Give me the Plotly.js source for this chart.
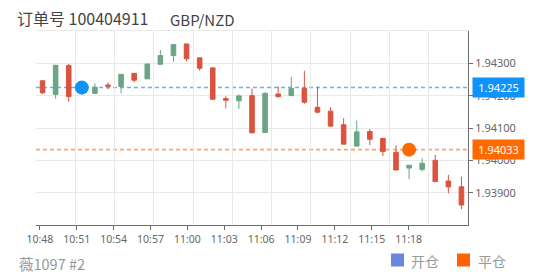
<!DOCTYPE html>
<html>
<head>
<meta charset="utf-8">
<script src="https://cdn.plot.ly/plotly-3.0.1.min.js"></script>
<style>html,body{margin:0;padding:0;background:#fff;}#chart{width:557px;height:278px;}</style>
</head>
<body>
<div id="chart"></div>
<script>
// ---- data ----
const orderTitle = '订单号 100404911';
const symbolName = 'GBP/NZD';
const footerText = '薇1097 #2';
const openLabel = '开仓';
const closeLabel = '平仓';

const candleOpen  = [1.94246,1.94204,1.94293,1.94221,1.94207,1.94233,1.94228,1.94269,1.94252,1.94297,1.94324,1.94360,1.94317,1.94286,1.94191,1.94184,1.94200,1.94086,1.94205,1.94200,1.94222,1.94164,1.94152,1.94110,1.94044,1.94089,1.94068,1.94025,1.93976,1.93972,1.94000,1.93936,1.93918];
const candleHigh  = [1.94248,1.94295,1.94298,1.94236,1.94238,1.94241,1.94266,1.94270,1.94298,1.94341,1.94358,1.94360,1.94317,1.94286,1.94198,1.94204,1.94222,1.94211,1.94228,1.94259,1.94277,1.94228,1.94164,1.94130,1.94123,1.94097,1.94068,1.94046,1.93985,1.94006,1.94017,1.93955,1.93949];
const candleLow   = [1.94205,1.94190,1.94181,1.94202,1.94207,1.94220,1.94207,1.94241,1.94252,1.94297,1.94305,1.94306,1.94277,1.94189,1.94161,1.94159,1.94085,1.94086,1.94194,1.94200,1.94175,1.94145,1.94103,1.94050,1.94044,1.94047,1.94013,1.93970,1.93942,1.93965,1.93934,1.93898,1.93849];
const candleClose = [1.94209,1.94294,1.94197,1.94230,1.94226,1.94229,1.94266,1.94248,1.94298,1.94324,1.94358,1.94314,1.94285,1.94189,1.94186,1.94199,1.94085,1.94207,1.94197,1.94222,1.94180,1.94149,1.94106,1.94050,1.94088,1.94065,1.94027,1.93970,1.93985,1.93991,1.93934,1.93918,1.93862];

const entryIndex = 3,  entryPrice = 1.94225;
const exitIndex  = 28, exitPrice  = 1.94033;

const yTickVals = [1.939, 1.940, 1.941, 1.942, 1.943];
const yRange = [1.938, 1.944];
const timeDay = '2024-01-01 ';
const timeRange = [timeDay + '10:47:41', timeDay + '11:22:50'];
const xTickLabels = ['10:48','10:51','10:54','10:57','11:00','11:03','11:06','11:09','11:12','11:15','11:18'];

// ---- colours ----
const upColor = '#6aa684', downColor = '#d9533f';
const entryColor = '#0f93fa', exitColor = '#ff6a00';
const entryLine = '#5fb6f8', exitLine = '#ffa46c';
const legendOpen = '#6a87dd', legendClose = '#ff6000';
const gridColor = '#e9e9e9', axisColor = '#6e6e6e';

const idx = candleOpen.map((_, i) => i);

const traces = [
  // carrier for the time axis (no visible marks)
  {type: 'scatter', mode: 'lines', x: timeRange, y: [null, null], xaxis: 'x', yaxis: 'y',
   showlegend: false, hoverinfo: 'skip', line: {width: 0}},
  {
    type: 'candlestick', x: idx, open: candleOpen, high: candleHigh, low: candleLow, close: candleClose,
    xaxis: 'x2', yaxis: 'y',
    increasing: {line: {color: upColor, width: 1}, fillcolor: upColor},
    decreasing: {line: {color: downColor, width: 1}, fillcolor: downColor},
    whiskerwidth: 0, showlegend: false, hoverinfo: 'skip'
  },
  {
    type: 'scatter', mode: 'markers', x: [entryIndex], y: [entryPrice], xaxis: 'x2', yaxis: 'y',
    marker: {color: entryColor, size: 14}, showlegend: false, hoverinfo: 'skip'
  },
  {
    type: 'scatter', mode: 'markers', x: [exitIndex], y: [exitPrice], xaxis: 'x2', yaxis: 'y',
    marker: {color: exitColor, size: 14}, showlegend: false, hoverinfo: 'skip'
  }
];

const baseFont = 'Noto Sans CJK SC, Noto Sans, sans-serif';

const layout = {
  width: 557, height: 278,
  margin: {l: 36, r: 89, t: 31, b: 53, pad: 0},
  paper_bgcolor: '#fff', plot_bgcolor: '#fff',
  showlegend: false,
  boxgap: 0.5,
  font: {family: baseFont, color: '#666', size: 11},
  title: {text: orderTitle, x: 17/557, xanchor: 'left', xref: 'container', y: 1 - 19/278, yanchor: 'middle', yref: 'container',
          font: {family: baseFont, size: 16, color: '#444'}},
  xaxis: {
    type: 'date', range: timeRange,
    tickvals: xTickLabels.map(t => timeDay + t), ticktext: xTickLabels,
    showgrid: false, zeroline: false, showline: true, linecolor: axisColor, linewidth: 1,
    ticks: 'outside', ticklen: 4, tickcolor: axisColor,
    tickfont: {family: 'Noto Sans, sans-serif', size: 10.5, color: '#666'},
    fixedrange: true, anchor: 'y'
  },
  xaxis2: {
    overlaying: 'x', side: 'top', anchor: 'y', range: [-0.5, candleOpen.length - 0.5],
    tick0: -0.5, dtick: 3, showticklabels: false, ticks: '',
    showgrid: true, gridcolor: gridColor, zeroline: false, showline: true, linecolor: gridColor,
    rangeslider: {visible: false}, fixedrange: true
  },
  yaxis: {
    side: 'right', range: yRange, tickvals: yTickVals, tickformat: '.5f',
    showgrid: true, gridcolor: gridColor, zeroline: false,
    showline: true, linecolor: axisColor, linewidth: 1,
    ticks: 'outside', ticklen: 4, tickcolor: axisColor,
    tickfont: {family: 'Noto Sans, sans-serif', size: 11, color: '#666'},
    fixedrange: true
  },
  shapes: [
    {type: 'line', xref: 'paper', x0: 0, x1: 1, yref: 'y', y0: entryPrice, y1: entryPrice,
     line: {color: entryLine, width: 1.5, dash: '4px,3px'}, layer: 'below'},
    {type: 'line', xref: 'paper', x0: 0, x1: 1, yref: 'y', y0: exitPrice, y1: exitPrice,
     line: {color: exitLine, width: 1.8, dash: '4px,3px'}, layer: 'below'},
    // legend swatches
    {type: 'rect', xref: 'paper', yref: 'paper', x0: (391-36)/432, x1: (404-36)/432, y0: -(253.5-225)/194, y1: -(266.5-225)/194,
     fillcolor: legendOpen, line: {width: 0}},
    {type: 'rect', xref: 'paper', yref: 'paper', x0: (457-36)/432, x1: (470-36)/432, y0: -(253.5-225)/194, y1: -(266.5-225)/194,
     fillcolor: legendClose, line: {width: 0}}
  ],
  annotations: [
    {text: symbolName, xref: 'paper', yref: 'paper', x: (167.5-36)/432, y: 1 + (31-19)/194, xanchor: 'left', yanchor: 'middle',
     showarrow: false, font: {family: baseFont, size: 15, color: '#444'}},
    {text: entryPrice.toFixed(5), xref: 'paper', yref: 'y', x: 1, y: entryPrice, xanchor: 'left', yanchor: 'middle', xshift: 3.5,
     showarrow: false, bgcolor: entryColor, width: 51, height: 19, borderpad: 0,
     font: {family: 'Noto Sans, sans-serif', size: 11, color: '#fff'}},
    {text: exitPrice.toFixed(5), xref: 'paper', yref: 'y', x: 1, y: exitPrice, xanchor: 'left', yanchor: 'middle', xshift: 3.5,
     showarrow: false, bgcolor: exitColor, width: 51, height: 19, borderpad: 0,
     font: {family: 'Noto Sans, sans-serif', size: 11, color: '#fff'}},
    {text: footerText, xref: 'paper', yref: 'paper', x: (16.5-36)/432, y: -(263-225)/194, xanchor: 'left', yanchor: 'middle',
     showarrow: false, font: {family: baseFont, size: 14.5, color: '#999'}},
    {text: openLabel, xref: 'paper', yref: 'paper', x: (409-36)/432, y: -(261-225)/194, xanchor: 'left', yanchor: 'middle',
     showarrow: false, font: {family: baseFont, size: 14, color: '#999'}},
    {text: closeLabel, xref: 'paper', yref: 'paper', x: (476-36)/432, y: -(261-225)/194, xanchor: 'left', yanchor: 'middle',
     showarrow: false, font: {family: baseFont, size: 14, color: '#999'}}
  ]
};

Plotly.newPlot('chart', traces, layout, {staticPlot: true, displayModeBar: false});
</script>
</body>
</html>
